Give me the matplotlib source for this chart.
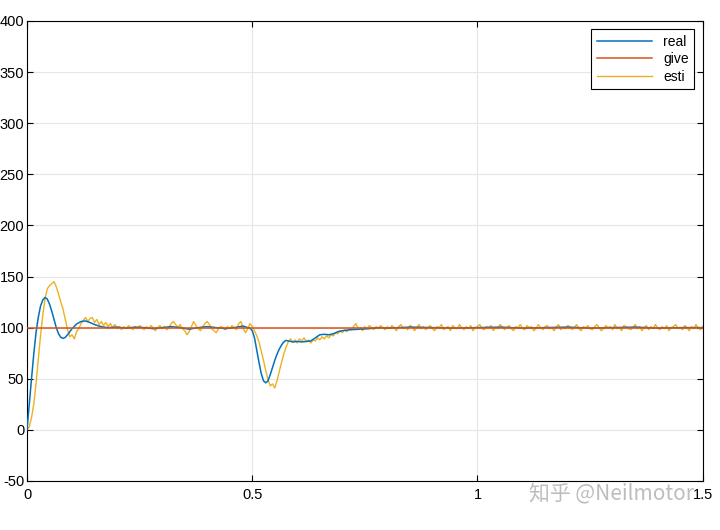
import matplotlib
matplotlib.use("Agg")
import matplotlib.pyplot as plt
import numpy as np

plt.rcParams.update(
    {
        "font.family": ["Liberation Sans", "DejaVu Sans"],
        "font.size": 10.5,
        "axes.linewidth": 0.8,
        "axes.unicode_minus": False,
    }
)

BLUE = "#0072BD"
ORANGE = "#D95319"
YELLOW = "#EDB120"

ESTI_START = [0, 3, 12, 25, 45, 68, 92, 112, 128, 138,
              141, 143, 145, 140, 133, 125, 118, 108, 98, 91,
              93, 89, 96, 99, 104, 107, 110, 106, 109, 110,
              105, 108, 103, 106, 102, 105, 101, 104, 100, 103,
              99]
ESTI_MID = [101, 98, 101, 99, 102, 100, 98, 101, 99, 102,
            100, 98, 101, 99, 102, 100, 97, 100, 102, 99,
            101, 98, 100, 104, 106, 103, 100, 103, 99, 97,
            93, 96, 101, 106, 102, 99, 97, 101, 104, 106,
            103, 99, 97, 95, 99, 101, 100, 98, 101, 99,
            102, 100, 98, 104, 106, 99, 95, 99, 104, 101]
ESTI_DIP = [97, 92, 86, 77, 68, 58, 49, 43, 45, 41,
            48, 57, 66, 74, 81, 86, 89, 86, 88, 85,
            89, 87, 90, 86, 88, 85, 88, 87, 90, 88,
            91, 89, 92, 90, 93, 92, 95, 94, 97, 95,
            98, 96, 99, 98, 101, 104, 99, 100, 97, 101,
            99, 102, 100, 98, 101, 99, 102, 100, 98, 101]
ESTI_TAIL = [99, 102, 100, 97, 101, 103, 99, 100, 98, 102,
             101, 97, 100, 103, 99, 101, 98, 100, 102, 99,
             97, 101, 100, 103, 98, 100, 101, 97, 102, 100,
             99, 103, 100, 98, 101, 99, 102, 97, 100, 101,
             103, 99, 98, 101, 100, 102, 97, 100, 99, 103,
             101, 98, 100, 102, 99, 97, 101, 100, 103, 99,
             98, 102, 100, 101, 97, 99, 103, 100, 98, 101,
             102, 99, 100, 97, 101, 103, 98, 100, 99, 102,
             101, 98, 100, 103, 99, 97, 101, 100, 102, 99,
             98, 101, 103, 100, 97, 99, 102, 100, 101, 98,
             103, 99, 100, 97, 102, 101, 99, 98, 100, 103,
             99, 101, 97, 100, 102, 98, 101, 99, 103, 100,
             98, 101, 99, 102, 97, 100, 101, 103, 99, 100,
             98, 102, 100, 97, 101, 99, 103, 100, 98, 101]
esti = np.array(ESTI_START + ESTI_MID + ESTI_DIP + ESTI_TAIL, dtype=float)
t_esti = np.arange(len(esti)) * 0.005

# real speed
T_REAL = [0, 0.005, 0.01, 0.015, 0.02, 0.025, 0.03, 0.035, 0.04, 0.045,
          0.05, 0.055, 0.06, 0.065, 0.07, 0.075, 0.08, 0.085, 0.09, 0.095,
          0.1, 0.11, 0.12, 0.13, 0.14, 0.15, 0.16, 0.17, 0.18, 0.2,
          0.22, 0.24, 0.26, 0.28, 0.3, 0.32, 0.34, 0.36, 0.38, 0.4,
          0.42, 0.44, 0.46, 0.48, 0.49, 0.495, 0.5, 0.505, 0.51, 0.515,
          0.52, 0.525, 0.53, 0.535, 0.54, 0.545, 0.55, 0.555, 0.56, 0.565,
          0.57, 0.575, 0.58, 0.59, 0.6, 0.61, 0.62, 0.63, 0.64, 0.65,
          0.66, 0.67, 0.68, 0.69, 0.7, 0.72, 0.74, 0.76, 0.78, 0.8,
          0.85, 0.9, 0.95, 1.0, 1.05, 1.1, 1.15, 1.2, 1.25, 1.3,
          1.35, 1.4, 1.45, 1.5]
REAL = [0, 25, 50, 74, 95, 110, 121, 127, 129.5, 128,
        123, 116, 108, 100, 94, 90.5, 89.5, 90.5, 93, 96,
        99, 103.5, 106, 106.5, 105, 103, 101.5, 100.5, 100, 100.5,
        99.5, 100.5, 100, 99, 100, 101, 100, 98.5, 100, 101,
        100, 99, 100, 101.5, 100, 99.5, 97, 90, 78, 66,
        55, 48, 46, 48, 54, 61, 68, 74, 79, 83,
        86, 87.5, 87, 86, 86.5, 86, 86.5, 87, 90, 93,
        93.5, 93, 94, 96, 97, 98, 98.5, 99, 100, 99.5,
        100.5, 100, 99.5, 100, 100.5, 99.5, 100, 100.5, 99.5, 100,
        100.5, 99.5, 100, 100]

T_GIVE = [0, 1.5]
GIVE = [100, 100]

fig = plt.figure(figsize=(7.2, 5.3), dpi=100)
ax = fig.add_axes([0.0375, 0.0925, 0.9385, 0.868])

ax.plot(T_REAL, REAL, color=BLUE, linewidth=1.1, label="real", zorder=3)
ax.plot(T_GIVE, GIVE, color=ORANGE, linewidth=1.1, label="give", zorder=4)
ax.plot(t_esti, esti, color=YELLOW, linewidth=1.0, label="esti", zorder=2)

ax.set_xlim(0, 1.5)
ax.set_ylim(-50, 400)
ax.set_xticks([0, 0.5, 1, 1.5])
ax.set_xticklabels(["0", "0.5", "1", "1.5"])
ax.set_yticks(np.arange(-50, 401, 50))
ax.grid(True, color="#e6e6e6", linewidth=0.8)
ax.set_axisbelow(True)
ax.tick_params(direction="in", length=4, width=0.8, top=True, right=True)
ax.tick_params(axis="x", pad=5)
ax.tick_params(axis="y", pad=2)

leg = ax.legend(loc="upper right", fontsize=10, handlelength=4.0,
                labelspacing=0.25, borderaxespad=0.6, fancybox=False,
                framealpha=1, edgecolor="black", borderpad=0.4)
leg.get_frame().set_linewidth(0.8)

# watermark, overlapping the last tick label as in the source image
fig.text(0.735, 0.07, "知乎 @Neilmotor", fontsize=15, color="#bdbdbd",
         family=["Noto Sans CJK SC", "DejaVu Sans"], va="center")

fig.savefig("out.png", dpi=100)
